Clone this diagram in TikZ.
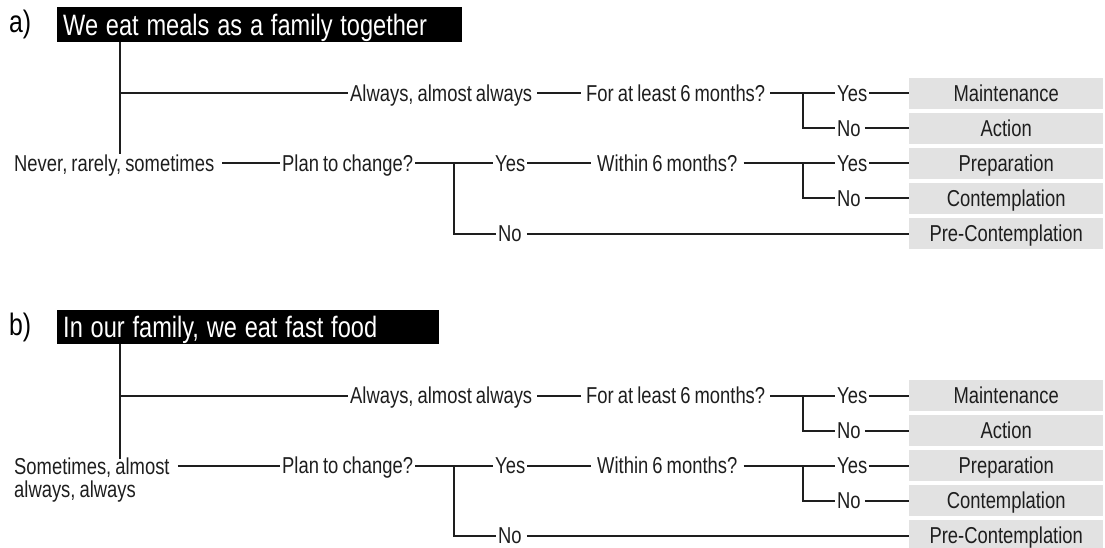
\documentclass[tikz,border=0pt]{standalone}
\usepackage{fontspec}
\setmainfont{Liberation Sans}[FakeStretch=0.8, WordSpace=0.8]
\definecolor{txt}{HTML}{1E1E1E}
\definecolor{boxgray}{HTML}{E2E2E2}
\newcommand\bodyfont{\fontsize{23}{23}\selectfont}
\newcommand\titlefont{\fontsize{29.5}{31}\selectfont}
\tikzset{
  lbl/.style={anchor=west, inner xsep=2pt, inner ysep=1.5pt, text height=16.5pt, text depth=0pt, font=\bodyfont, text=txt},
  stage/.style={anchor=west, fill=boxgray, minimum width=194pt, minimum height=31pt, inner sep=0pt, text height=16.5pt, text depth=0pt, font=\bodyfont, text=txt},
  titlebox/.style={anchor=west, fill=black, text=white, font=\titlefont, inner xsep=6pt, inner ysep=0pt, minimum height=34.5pt, text height=21pt, text depth=0pt, align=left, execute at begin node={\spaceskip=7.8pt plus 0pt minus 0pt\relax}},
  partlbl/.style={anchor=base west, inner sep=0pt, font=\fontsize{31}{31}\selectfont, text=black},
  ln/.style={line width=2pt, draw=txt}
}
\newcommand\treecommon[1]{%
  \node[lbl] (#1always) at (348,93.5) {Always, almost always};
  \node[lbl] (#1for) at (584,93.5) {For at least 6 months?};
  \coordinate (#1ja) at (803,93.5);
  \node[lbl] (#1yA) at (835,93.5) {Yes};
  \node[lbl] (#1nA) at (835,128.5) {No};
  \node[lbl] (#1plan) at (280,163.5) {Plan to change?};
  \coordinate (#1jp) at (454,163.5);
  \node[lbl] (#1yP) at (493,163.5) {Yes};
  \node[lbl] (#1nP) at (496,233.5) {No};
  \node[lbl] (#1within) at (595,163.5) {Within 6 months?};
  \coordinate (#1jw) at (803,163.5);
  \node[lbl] (#1yW) at (835,163.5) {Yes};
  \node[lbl] (#1nW) at (835,198.5) {No};
  \node[stage] (#1maint) at (909,93.5) {Maintenance};
  \node[stage] (#1action) at (909,128.5) {Action};
  \node[stage] (#1prep) at (909,163.5) {Preparation};
  \node[stage] (#1contemp) at (909,198.5) {Contemplation};
  \node[stage] (#1precon) at (909,233.5) {Pre-Contemplation};
  \coordinate (#1t) at (120,93.5);
  \draw[ln] (#1t) -- (#1always);
  \draw[ln] ([xshift=3pt]#1always.east) -- ([xshift=-3pt]#1for.west);
  \draw[ln] ([xshift=3pt]#1for.east) -- (#1yA);
  \draw[ln] (#1ja) |- (#1nA);
  \draw[ln] (#1yA) -- (#1maint);
  \draw[ln] ([xshift=2pt]#1nA.east) -- (#1action);
  \draw[ln] (#1plan) -- (#1yP);
  \draw[ln] (#1jp) |- (#1nP);
  \draw[ln] (#1yP) -- ([xshift=-4pt]#1within.west);
  \draw[ln] ([xshift=4pt]#1within.east) -- (#1yW);
  \draw[ln] (#1jw) |- (#1nW);
  \draw[ln] (#1yW) -- (#1prep);
  \draw[ln] ([xshift=2pt]#1nW.east) -- (#1contemp);
  \draw[ln] ([xshift=3pt]#1nP.east) -- (#1precon);
}
\begin{document}
\begin{tikzpicture}[x=1pt,y=-1pt]
\useasboundingbox (0,0) rectangle (1105,548);
% ---------- part a ----------
\begin{scope}
  \node[partlbl] (alab) at (9,33) {a)};
  \node[titlebox, text width=393pt] (atitle) at (57,24.75) {We eat meals as a family together};
  \treecommon{a}
  \node[lbl] (aleft) at (12,163.5) {Never, rarely, sometimes};
  \draw[ln] (atitle.south -| at) -- (at |- aleft.north);
  \draw[ln] ([xshift=6pt]aleft.east) -- (aplan);
\end{scope}
% ---------- part b ----------
\begin{scope}[shift={(0,302)}]
  \node[partlbl] (blab) at (9,33) {b)};
  \node[titlebox, text width=369.6pt] (btitle) at (57,24.75) {In our family, we eat fast food};
  \treecommon{b}
  \node[anchor=north west, inner sep=0pt, align=left, font=\bodyfont, text=txt] (bleft) at (14,155.25) {Sometimes, almost\\always, always};
  \coordinate (bse) at ([xshift=8pt]bleft.east);
  \draw[ln] (btitle.south -| bt) -- ([yshift=-2pt]bt |- bleft.north);
  \draw[ln] (bse |- bplan.west) -- (bplan);
\end{scope}
\end{tikzpicture}
\end{document}
